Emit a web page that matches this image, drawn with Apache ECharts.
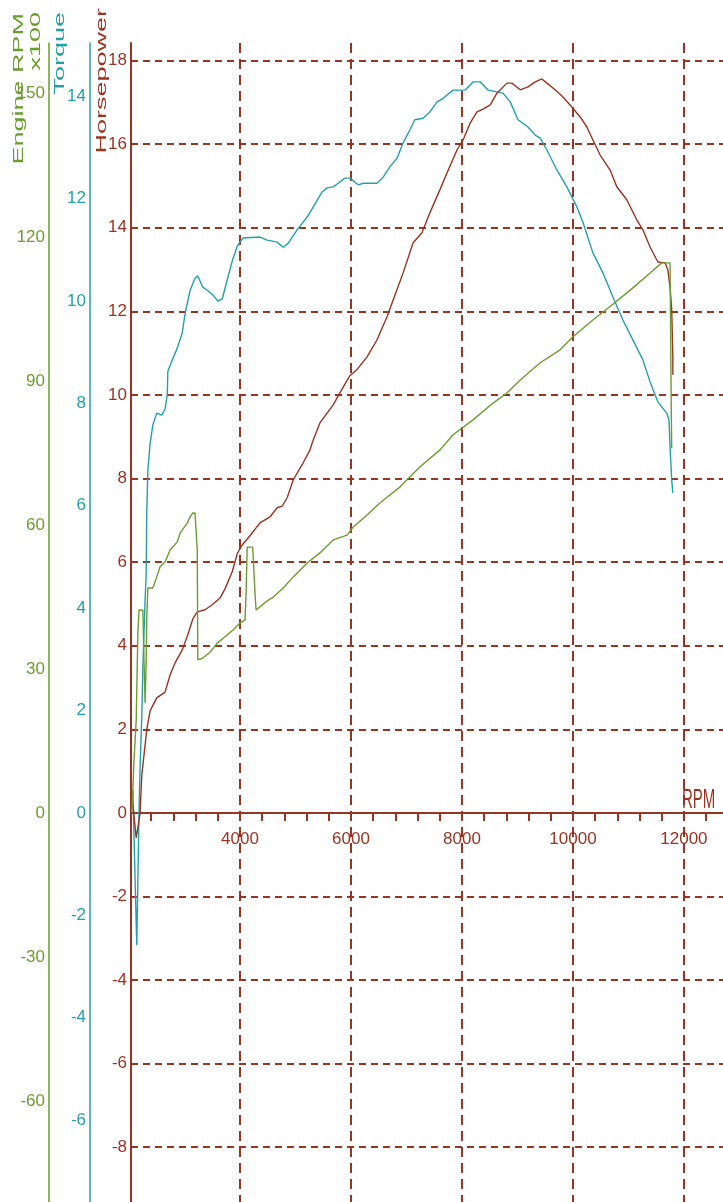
<!DOCTYPE html>
<html>
<head>
<meta charset="utf-8">
<title>Dyno run</title>
<script src="https://cdn.jsdelivr.net/npm/echarts@6/dist/echarts.min.js"></script>
<style>
  html, body { margin: 0; padding: 0; background: #fff; }
  #chart { width: 723px; height: 1202px; }
</style>
</head>
<body>
<div id="chart"></div>
<script>
// RPM (x axis) ticks and labels
const rpmLabels = [4000, 6000, 8000, 10000, 12000];
const rpmMinorTicks = [2400, 2800, 3200, 3600, 4000, 4400, 4800, 5200, 5600, 6000, 6400, 6800,
  7200, 7600, 8000, 8400, 8800, 9200, 9600, 10000, 10400, 10800, 11200, 11600, 12000, 12400];

// y axis tick labels
const hpTicks = [-8, -6, -4, -2, 0, 2, 4, 6, 8, 10, 12, 14, 16, 18];
const torqueTicks = [-6, -4, -2, 0, 2, 4, 6, 8, 10, 12, 14];
const engineTicks = [-60, -30, 0, 30, 60, 90, 120, 150];

// Horsepower curve
const hpRpm = [2070, 2130, 2200, 2230, 2320, 2380, 2500, 2650, 2740, 2830,
  2960, 3060, 3150, 3230, 3370, 3500, 3640, 3730, 3860, 3950,
  4040, 4180, 4360, 4540, 4670, 4760, 4850, 4960, 5120, 5260,
  5320, 5440, 5680, 5800, 5980, 6110, 6290, 6470, 6650, 6760,
  6940, 7120, 7280, 7420, 7600, 7730, 7910, 8020, 8150, 8270,
  8380, 8510, 8630, 8810, 8900, 9050, 9190, 9320, 9440, 9530,
  9680, 9820, 9980, 10130, 10250, 10360, 10490, 10670, 10790, 10970,
  11150, 11260, 11390, 11530, 11660, 11710, 11750, 11780, 11800, 11800];
const hpValue = [0.19, -0.6, 0, 0.89, 1.99, 2.44, 2.75, 2.89, 3.3, 3.59,
  3.9, 4.26, 4.64, 4.81, 4.86, 4.98, 5.14, 5.36, 5.77, 6.2,
  6.41, 6.63, 6.94, 7.08, 7.3, 7.34, 7.54, 7.97, 8.33, 8.68,
  8.92, 9.33, 9.76, 10.05, 10.46, 10.61, 10.91, 11.32, 11.87, 12.27,
  12.92, 13.64, 13.88, 14.35, 14.9, 15.31, 15.86, 16.1, 16.51, 16.77,
  16.84, 16.94, 17.22, 17.46, 17.46, 17.3, 17.37, 17.49, 17.56, 17.46,
  17.3, 17.13, 16.89, 16.65, 16.41, 16.1, 15.74, 15.38, 14.98, 14.67,
  14.19, 13.95, 13.54, 13.18, 13.16, 12.99, 12.58, 12.03, 10.91, 10.48];

// Torque curve
const tqRpm = [2070, 2110, 2140, 2160, 2180, 2200, 2230, 2250, 2290, 2310,
  2320, 2340, 2380, 2430, 2500, 2590, 2650, 2690, 2700, 2780,
  2870, 2960, 3010, 3100, 3190, 3240, 3330, 3420, 3510, 3600,
  3680, 3770, 3860, 3950, 4050, 4360, 4490, 4670, 4780, 4870,
  5030, 5210, 5320, 5480, 5570, 5680, 5770, 5890, 5980, 6130,
  6220, 6470, 6580, 6700, 6830, 6940, 7060, 7150, 7300, 7420,
  7550, 7660, 7840, 8060, 8200, 8330, 8470, 8740, 8870, 9010,
  9190, 9320, 9410, 9530, 9710, 9890, 10070, 10180, 10360, 10540,
  10720, 10900, 11080, 11260, 11390, 11530, 11690, 11730, 11750, 11780,
  11800];
const tqValue = [0.45, -1.31, -2.58, -1.31, 0, 0.9, 1.88, 2.85, 4.16, 4.67,
  5.88, 6.7, 7.21, 7.58, 7.81, 7.77, 7.89, 8.18, 8.63, 8.85,
  9.08, 9.38, 9.75, 10.2, 10.45, 10.49, 10.27, 10.2, 10.12, 10.0,
  10.04, 10.41, 10.78, 11.07, 11.23, 11.25, 11.19, 11.15, 11.05, 11.13,
  11.39, 11.64, 11.84, 12.13, 12.21, 12.23, 12.3, 12.4, 12.4, 12.27,
  12.3, 12.3, 12.42, 12.62, 12.79, 13.09, 13.34, 13.54, 13.57, 13.69,
  13.89, 13.96, 14.12, 14.12, 14.28, 14.28, 14.12, 14.06, 13.89, 13.54,
  13.4, 13.24, 13.18, 12.95, 12.56, 12.23, 11.84, 11.54, 10.94, 10.55,
  10.08, 9.63, 9.24, 8.85, 8.42, 8.03, 7.81, 7.68, 7.15, 6.5,
  6.25];

// Engine RPM x100 curve
const engRpm = [2050, 2070, 2090, 2130, 2140, 2160, 2180, 2250, 2270, 2290,
  2310, 2320, 2340, 2430, 2500, 2560, 2650, 2740, 2870, 2920,
  3050, 3100, 3150, 3190, 3230, 3240, 3330, 3460, 3590, 3770,
  3870, 4000, 4090, 4110, 4130, 4230, 4270, 4290, 4490, 4600,
  4780, 4960, 5210, 5440, 5680, 5930, 6040, 6290, 6520, 6880,
  7240, 7600, 7840, 8200, 8560, 8810, 9050, 9410, 9770, 10000,
  10360, 10720, 11080, 11390, 11600, 11750, 11770, 11780];
const engValue = [0.2, 4.8, 11, 19.4, 25.6, 37.5, 42.3, 42.3, 31.9, 22.9,
  31.9, 40.8, 46.9, 46.9, 49.2, 51.3, 52.3, 54.8, 56.5, 58.3,
  60.4, 61.7, 62.5, 62.5, 54.8, 31.9, 32.3, 33.5, 35.4, 37.1,
  38.1, 39.6, 40.2, 45.8, 55.4, 55.4, 45.8, 42.3, 44.2, 45.0,
  46.9, 49.2, 52.1, 54.2, 56.9, 57.9, 59.6, 62.1, 64.6, 67.9,
  72.1, 75.6, 78.8, 81.9, 85.4, 87.5, 90.2, 93.8, 96.5, 99.2,
  102.7, 106, 109.4, 112.5, 114.6, 114.6, 86, 76];

const brown = '#993322';
const green = '#6b9c2e';
const teal = '#22a0a8';
const labelFont = '"Liberation Sans", Arial, sans-serif';
const nameFont = '15px "Liberation Sans", Arial, sans-serif';

const pairs = (xs, ys) => xs.map((x, i) => [x, ys[i]]);
const plain = (v) => String(v);

const rpmMin = 2036;
const rpmMax = 12704;
// distance from the bottom of the plot to the zero line of the power axis
const zeroLift = 389;

function sideAxis(color, offset, min, max, ticks, lineWidth) {
  return {
    type: 'value',
    position: 'left',
    offset: offset,
    min: min,
    max: max,
    axisLine: { show: true, onZero: false, lineStyle: { color: color, width: lineWidth } },
    axisTick: { show: false, customValues: ticks },
    axisLabel: {
      customValues: ticks,
      formatter: plain,
      color: color,
      margin: 4,
      fontFamily: labelFont,
      fontSize: 17,
      padding: [8, 0, 0, 0],
    },
    splitLine: { show: false },
  };
}

const chart = echarts.init(document.getElementById('chart'));

const hpAxis = sideAxis(brown, 0, -9.31, 18.42, hpTicks, 2);
hpAxis.axisTick = {
  show: true,
  inside: true,
  length: 6,
  customValues: hpTicks,
  lineStyle: { color: brown, width: 2 },
};
hpAxis.splitLine = {
  show: true,
  lineStyle: { color: brown, width: 2, type: [7, 5] },
};

chart.setOption({
  animation: false,
  backgroundColor: '#ffffff',
  grid: { left: 131, right: 0, top: 43, bottom: 0, outerBoundsMode: 'none', containLabel: false },
  xAxis: [
    {
      type: 'value',
      position: 'bottom',
      min: rpmMin,
      max: rpmMax,
      axisLine: { onZero: true, onZeroAxisIndex: 2, lineStyle: { color: brown, width: 2 } },
      axisTick: { show: true, customValues: rpmMinorTicks, length: 8, lineStyle: { color: brown, width: 2 } },
      axisLabel: { show: false },
      splitLine: { show: false },
    },
    {
      type: 'value',
      position: 'bottom',
      offset: -zeroLift,
      min: rpmMin,
      max: rpmMax,
      axisLine: { show: false, onZero: false },
      axisTick: { show: false, customValues: rpmLabels },
      axisLabel: {
        customValues: rpmLabels,
        formatter: plain,
        color: brown,
        margin: 18,
        fontFamily: labelFont,
        fontSize: 17,
      },
      splitLine: { show: true, lineStyle: { color: brown, width: 2, type: [10, 6] } },
    },
  ],
  yAxis: [
    sideAxis(green, 82, -81, 160.4, engineTicks, 1.5),
    sideAxis(teal, 41, -7.6, 15.04, torqueTicks, 1.5),
    hpAxis,
  ],
  graphic: [
    { type: 'text', x: 19, y: 13, rotation: Math.PI / 2, scaleX: 1.8,
      style: { text: 'Engine RPM', font: nameFont, fill: green, align: 'right', verticalAlign: 'middle' } },
    { type: 'text', x: 36, y: 12, rotation: Math.PI / 2, scaleX: 1.8,
      style: { text: 'x100', font: nameFont, fill: green, align: 'right', verticalAlign: 'middle' } },
    { type: 'text', x: 60, y: 12, rotation: Math.PI / 2, scaleX: 1.8,
      style: { text: 'Torque', font: nameFont, fill: teal, align: 'right', verticalAlign: 'middle' } },
    { type: 'text', x: 102, y: 8, rotation: Math.PI / 2, scaleX: 1.8,
      style: { text: 'Horsepower', font: nameFont, fill: brown, align: 'right', verticalAlign: 'middle' } },
    { type: 'text', x: 682, y: 801, scaleY: 1.8,
      style: { text: 'RPM', font: nameFont, fill: brown, align: 'left', verticalAlign: 'middle' } },
  ],
  series: [
    {
      name: 'Torque',
      type: 'line',
      xAxisIndex: 0,
      yAxisIndex: 1,
      data: pairs(tqRpm, tqValue),
      symbol: 'none',
      lineStyle: { color: teal, width: 1.4 },
    },
    {
      name: 'Horsepower',
      type: 'line',
      xAxisIndex: 0,
      yAxisIndex: 2,
      data: pairs(hpRpm, hpValue),
      symbol: 'none',
      lineStyle: { color: brown, width: 1.4 },
    },
    {
      name: 'Engine RPM',
      type: 'line',
      xAxisIndex: 0,
      yAxisIndex: 0,
      data: pairs(engRpm, engValue),
      symbol: 'none',
      lineStyle: { color: green, width: 1.4 },
    },
  ],
});
</script>
</body>
</html>
